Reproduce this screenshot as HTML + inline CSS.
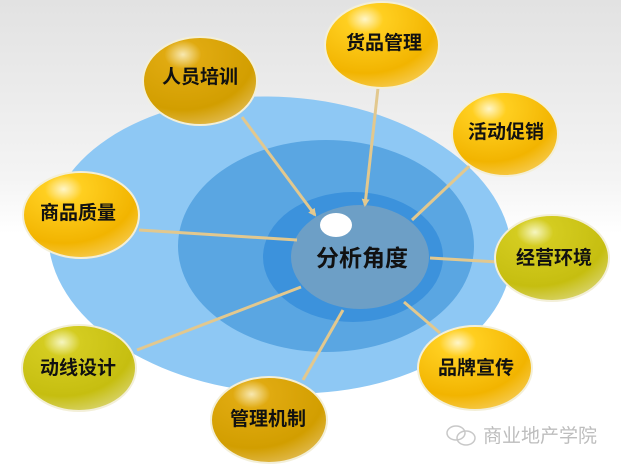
<!DOCTYPE html>
<html><head><meta charset="utf-8"><style>
html,body{margin:0;padding:0;width:621px;height:468px;overflow:hidden;background:#fff}
text{font-family:"Liberation Sans","Noto Sans CJK SC",sans-serif}
</style></head><body>
<svg width="621" height="468" viewBox="0 0 621 468" xmlns="http://www.w3.org/2000/svg">
<defs>
<linearGradient id="bg" x1="0" y1="0" x2="0" y2="1">
<stop offset="0" stop-color="#e2e2e2"/><stop offset="0.38" stop-color="#f4f4f4"/><stop offset="0.5" stop-color="#fff"/>
</linearGradient>
<radialGradient id="og" cx="0.35" cy="0.2" r="0.9">
<stop offset="0" stop-color="#fff6c8"/><stop offset="0.18" stop-color="#ffcf20"/><stop offset="0.7" stop-color="#f2b400"/><stop offset="1" stop-color="#f7cf60"/>
</radialGradient>
<radialGradient id="dg" cx="0.35" cy="0.2" r="0.9">
<stop offset="0" stop-color="#f8e8b0"/><stop offset="0.18" stop-color="#e0aa10"/><stop offset="0.7" stop-color="#d29e00"/><stop offset="1" stop-color="#e4c060"/>
</radialGradient>
<radialGradient id="gg" cx="0.35" cy="0.2" r="0.9">
<stop offset="0" stop-color="#f6f6c0"/><stop offset="0.18" stop-color="#d4cc20"/><stop offset="0.7" stop-color="#c6be10"/><stop offset="1" stop-color="#dcd880"/>
</radialGradient>
<marker id="ar" markerWidth="8" markerHeight="8" refX="6" refY="4" orient="auto" markerUnits="userSpaceOnUse">
<path d="M0,0 L8,4 L0,8 Z" fill="#e2c88e"/></marker>
</defs>
<rect width="621" height="468" fill="url(#bg)"/>
<ellipse cx="280" cy="245" rx="232" ry="148" fill="#8ec8f4" transform="rotate(4 280 245)"/>
<ellipse cx="326" cy="246" rx="148" ry="106" fill="#5aa6e2"/>
<ellipse cx="353" cy="257" rx="90" ry="65" fill="#3c92dc"/>
<ellipse cx="360" cy="257" rx="69" ry="52" fill="#6d9fc6"/>
<ellipse cx="336" cy="225" rx="16" ry="12" fill="#fff"/>
<g stroke="#e2c88e" stroke-width="3" fill="none">
<line x1="242" y1="117" x2="315" y2="215" marker-end="url(#ar)"/>
<line x1="378" y1="88" x2="365" y2="205" marker-end="url(#ar)"/>
<line x1="481" y1="155" x2="412" y2="220"/>
<line x1="139" y1="230" x2="297" y2="240"/>
<line x1="430" y1="258" x2="515" y2="263"/>
<line x1="404" y1="302" x2="440" y2="333"/>
<line x1="343" y1="310" x2="303" y2="380"/>
<line x1="301" y1="287" x2="137" y2="350"/>
</g>
<g stroke="#f3efd8" stroke-width="2">
<ellipse cx="200" cy="81" rx="57" ry="44" fill="url(#dg)"/>
<ellipse cx="382" cy="45" rx="57" ry="43" fill="url(#og)"/>
<ellipse cx="505" cy="134" rx="53" ry="42" fill="url(#og)"/>
<ellipse cx="81" cy="215" rx="58" ry="43" fill="url(#og)"/>
<ellipse cx="552" cy="258" rx="57" ry="43" fill="url(#gg)"/>
<ellipse cx="475" cy="368" rx="57" ry="42" fill="url(#og)"/>
<ellipse cx="269" cy="420" rx="58" ry="43" fill="url(#dg)"/>
<ellipse cx="79" cy="368" rx="57" ry="43" fill="url(#gg)"/>
</g>
<g font-size="19" font-weight="bold" fill="#111" text-anchor="middle">
<text x="200" y="83">人员培训</text>
<text x="384" y="49">货品管理</text>
<text x="506" y="138">活动促销</text>
<text x="78" y="219">商品质量</text>
<text x="554" y="264">经营环境</text>
<text x="476" y="374">品牌宣传</text>
<text x="268" y="425">管理机制</text>
<text x="78" y="374">动线设计</text>
<text x="362" y="266" font-size="23">分析角度</text>
</g>
<g fill="none" stroke="#c8c8c8" stroke-width="1.5">
<ellipse cx="456" cy="433" rx="9" ry="7"/>
<ellipse cx="466" cy="438" rx="9" ry="7"/>
</g>
<text x="483" y="442" font-size="19" fill="#bdbdbd">商业地产学院</text>
</svg>
</body></html>
